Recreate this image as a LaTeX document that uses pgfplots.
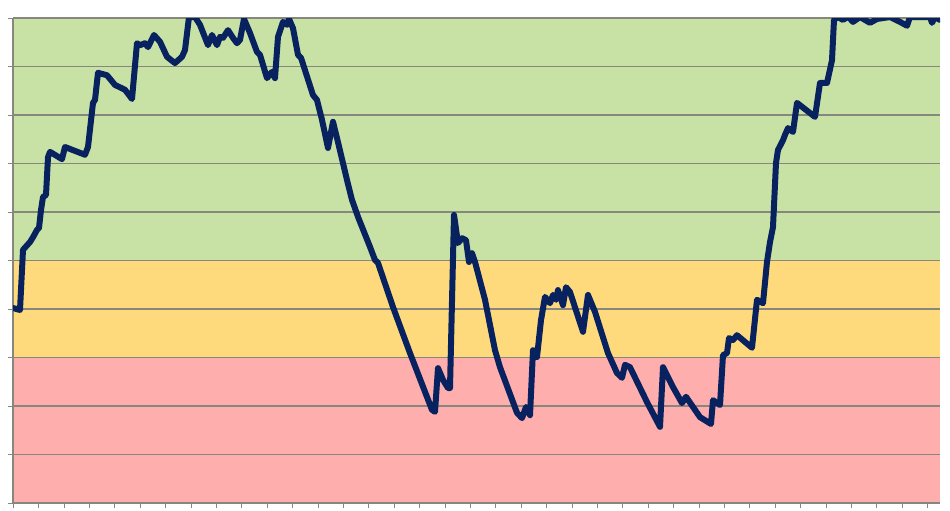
\documentclass[border=0pt]{standalone}
\usepackage{pgfplots}
\pgfplotsset{compat=1.18}
\definecolor{bgreen}{RGB}{200,226,166}
\definecolor{byellow}{RGB}{255,218,124}
\definecolor{bred}{RGB}{255,174,174}
\definecolor{gridc}{RGB}{135,135,125}
\definecolor{navy}{RGB}{8,34,96}
\begin{document}
\begin{tikzpicture}
\begin{axis}[
  set layers,
  scale only axis,
  width=463.5pt, height=242.5pt,
  xmin=13, xmax=940, ymin=0, ymax=10,
  axis x line*=bottom, axis y line*=left,
  axis line style={gridc, line width=0.6pt},
  xtick={13.3,38.7,...,928}, ytick={0,1,...,10},
  xticklabels={}, yticklabels={},
  tick align=outside, major tick length=2.5pt,
  tick style={gridc, line width=0.5pt},
  ymajorgrids, grid style={gridc, line width=0.75pt},
  clip=true,
]
\addplot[fill=bred, draw=none, on layer=axis background] coordinates {(13,0) (940,0) (940,3) (13,3)} -- cycle;
\addplot[fill=byellow, draw=none, on layer=axis background] coordinates {(13,3) (940,3) (940,5) (13,5)} -- cycle;
\addplot[fill=bgreen, draw=none, on layer=axis background] coordinates {(13,5) (940,5) (940,10) (13,10)} -- cycle;
\addplot[navy, line width=3pt, line join=round, line cap=round, mark=none] coordinates {
(13,4.02) (20,3.98) (23,5.22) (30,5.38) (33,5.48) (37,5.63) (39,5.67) (41,6.04) (43,6.31) (46,6.35)
(48,7.13) (50,7.24) (62,7.09) (65,7.34) (85,7.18) (88,7.34) (93,8.25) (95,8.31) (98,8.87) (107,8.82)
(115,8.62) (125,8.52) (132,8.33) (137,9.48) (140,9.44) (145,9.48) (148,9.40) (154,9.65) (160,9.51)
(167,9.20) (175,9.07) (182,9.20) (185,9.34) (189,10.02) (195,10.02) (200,9.86) (208,9.44) (212,9.65)
(217,9.44) (220,9.61) (223,9.59) (228,9.75) (233,9.59) (237,9.48) (240,9.55) (244,9.98) (250,9.69)
(257,9.30) (260,9.24) (267,8.76) (272,8.89) (275,8.76) (278,9.61) (283,9.92) (287,9.86) (289,9.98)
(293,9.79) (298,9.24) (301,9.18) (313,8.41) (317,8.31) (322,7.90) (328,7.32) (333,7.86) (338,7.44)
(347,6.66) (352,6.25) (358,5.90) (370,5.28) (375,5.01) (378,4.95) (393,4.04) (410,3.09) (432,1.92)
(435,1.88) (438,2.78) (443,2.54) (448,2.37) (450,2.37) (454,5.94) (458,5.36) (462,5.46) (466,5.42)
(469,4.97) (472,5.15) (475,4.97) (485,4.19) (495,3.15) (500,2.80) (517,1.86) (522,1.75) (526,1.98)
(530,1.81) (533,3.15) (537,3.01) (541,3.77) (545,4.25) (550,4.12) (553,4.29) (556,4.19) (558,4.39)
(563,4.08) (566,4.45) (570,4.35) (583,3.53) (588,4.29) (595,3.94) (608,3.09) (617,2.68) (622,2.58)
(625,2.85) (630,2.80) (647,2.08) (660,1.57) (663,2.80) (673,2.39) (682,2.06) (686,2.19) (700,1.77)
(711,1.63) (713,2.12) (720,2.02) (723,3.05) (727,3.09) (729,3.40) (733,3.36) (737,3.46) (752,3.20)
(757,4.19) (763,4.12) (767,4.97) (770,5.38) (773,5.69) (776,7.01) (778,7.28) (783,7.48) (785,7.59)
(788,7.73) (793,7.65) (797,8.25) (815,7.96) (820,8.66) (827,8.66) (832,9.13) (834,9.96) (838,10.02)
(843,9.96) (848,10.03) (853,9.92) (860,10.02) (870,9.90) (877,9.98) (890,10.02) (900,9.92) (907,9.84)
(910,10.02) (930,10.02) (932,9.90) (935,10.02) (940,9.96)
};
\end{axis}
\pgfresetboundingbox
\path[use as bounding box] ([shift={(-6.5pt,-3.5pt)}]current axis.south west) rectangle ([shift={(5pt,9pt)}]current axis.north east);
\end{tikzpicture}
\end{document}
